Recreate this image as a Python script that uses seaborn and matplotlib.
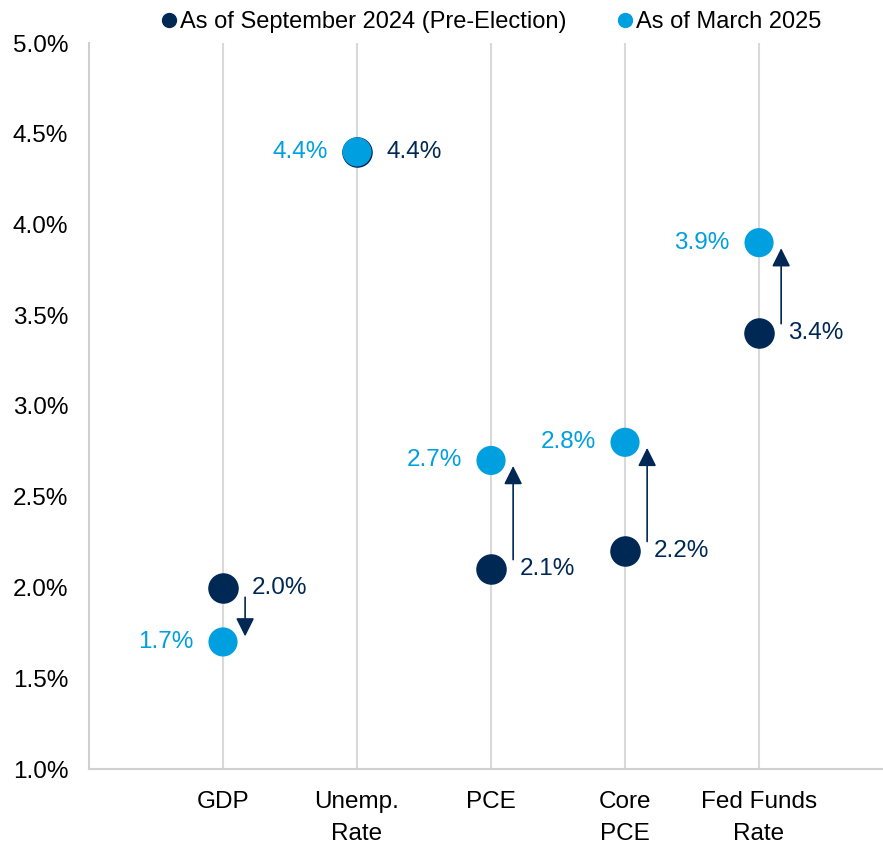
import numpy as np
import pandas as pd
import seaborn as sns
import matplotlib.pyplot as plt
from matplotlib.lines import Line2D
from matplotlib.ticker import StrMethodFormatter

categories = ["GDP", "Unemp.\nRate", "PCE", "Core\nPCE", "Fed Funds\nRate"]
sept_2024 = [2.0, 4.4, 2.1, 2.2, 3.4]
march_2025 = [1.7, 4.4, 2.7, 2.8, 3.9]
series_names = ["As of September 2024 (Pre-Election)", "As of March 2025"]

NAVY = "#002855"
BLUE = "#009fdf"
FS = 17.5

sns.set_style("white")
plt.rcParams["font.family"] = ["Liberation Sans", "DejaVu Sans"]
plt.rcParams["text.color"] = "black"
plt.rcParams["xtick.color"] = "black"
plt.rcParams["ytick.color"] = "black"

df = pd.DataFrame({
    "category": categories * 2,
    "value": sept_2024 + march_2025,
    "series": [series_names[0]] * len(categories) + [series_names[1]] * len(categories),
})

fig = plt.figure(figsize=(8.83, 8.44), dpi=100)
ax = fig.add_axes([89 / 883, 1 - 769 / 844, 1 - 89 / 883, (769 - 43) / 844])

# September first so March sits on top (Unemp. overlaps)
sns.scatterplot(data=df[df["series"] == series_names[0]], x="category", y="value",
                color=NAVY, s=440, edgecolor=NAVY, linewidth=1.0, ax=ax, zorder=3, legend=False)
sns.scatterplot(data=df[df["series"] == series_names[1]], x="category", y="value",
                color=BLUE, s=440, edgecolor="none", linewidth=0, ax=ax, zorder=4, legend=False)

# value labels + arrows showing the change
for i, (a, b) in enumerate(zip(sept_2024, march_2025)):
    ax.annotate(f"{a:.1f}%", (i, a), xytext=(21, 0), textcoords="offset points",
                ha="left", va="center", fontsize=FS, color=NAVY)
    ax.annotate(f"{b:.1f}%", (i, b), xytext=(-21, 0), textcoords="offset points",
                ha="right", va="center", fontsize=FS, color=BLUE)
    if a != b:
        xo = i + 0.165
        ax.annotate("", xy=(xo, b), xytext=(xo, a),
                    arrowprops=dict(arrowstyle="-|>", color=NAVY, lw=1.2,
                                    mutation_scale=28, shrinkA=7, shrinkB=4))

ax.set_xlim(-1.0, 4.925)
ax.set_ylim(1.0, 5.0)
ax.set_yticks(np.arange(1.0, 5.01, 0.5))
ax.yaxis.set_major_formatter(StrMethodFormatter("{x:.1f}%"))
ax.set_xticks(range(len(categories)))
ax.set_xticklabels(categories, fontsize=FS, linespacing=1.55)
ax.tick_params(axis="y", labelsize=FS, pad=15, length=0)
ax.tick_params(axis="x", pad=16, length=0)
ax.set_xlabel("")
ax.set_ylabel("")

ax.grid(axis="x", color="#d9d9d9", lw=1.5)
ax.grid(axis="y", visible=False)
ax.set_axisbelow(True)
for side in ["top", "right"]:
    ax.spines[side].set_visible(False)
for side in ["left", "bottom"]:
    ax.spines[side].set_color("#d0d0d0")
    ax.spines[side].set_linewidth(1.5)

handles = [Line2D([], [], marker="o", ls="", color=c, markersize=10) for c in (NAVY, BLUE)]
fig.legend(handles, series_names, loc="center", bbox_to_anchor=(0.557, 1 - 22 / 844),
           ncol=2, frameon=False, fontsize=17, handlelength=0.6, handletextpad=0.15,
           columnspacing=2.2, borderpad=0)

fig.savefig("out.png", dpi=100)
